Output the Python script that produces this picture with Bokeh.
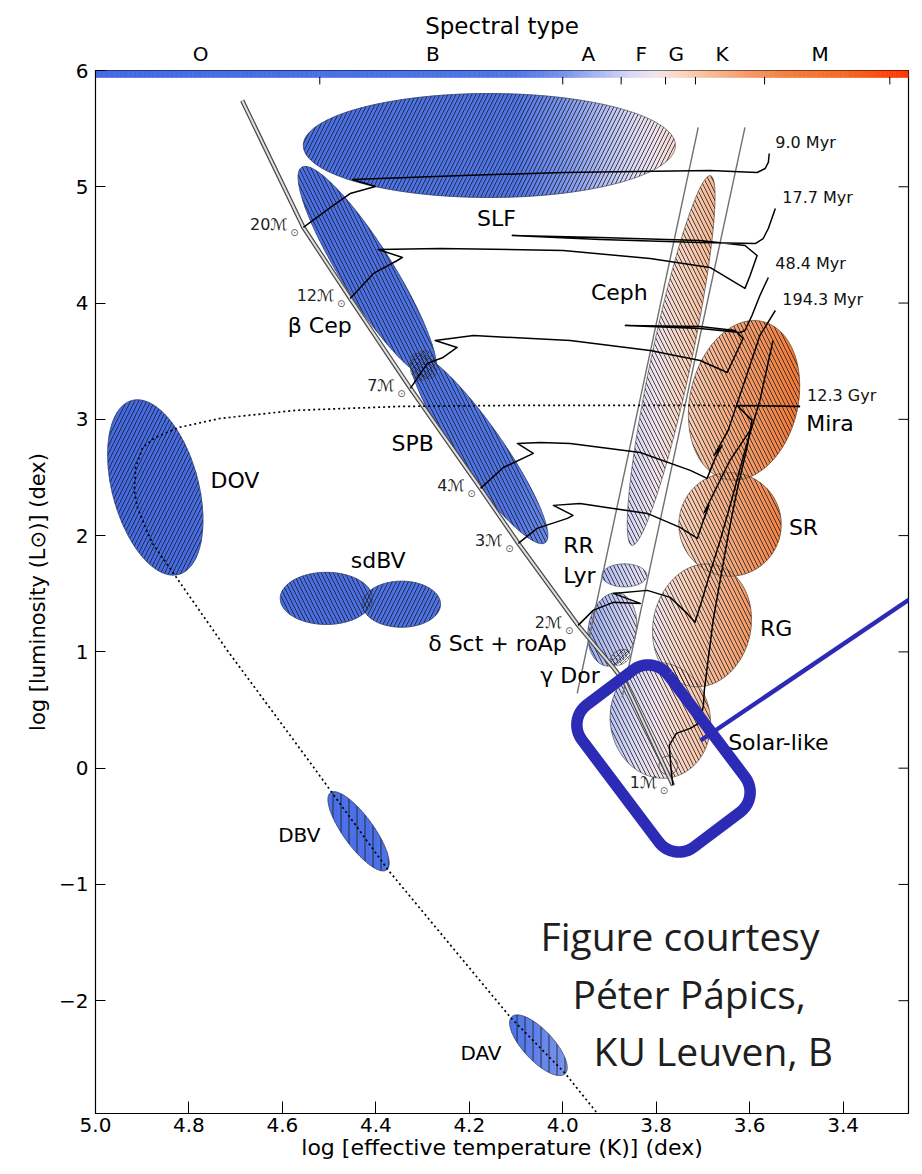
import numpy as np
from bokeh.plotting import figure
from bokeh.models import Range1d, LinearAxis, FixedTicker
from bokeh.embed import file_html
from bokeh.resources import INLINE
from bokeh.core.properties import value

# ---------------- data ----------------
x_ticks = [5.0, 4.8, 4.6, 4.4, 4.2, 4.0, 3.8, 3.6, 3.4]
y_ticks = [-2, -1, 0, 1, 2, 3, 4, 5, 6]

spec_bounds = [4.52, 4.0, 3.875, 3.78, 3.716, 3.568, 3.30]
spec_names = ["O", "B", "A", "F", "G", "K", "M"]
spec_name_teff = [4.775, 4.278, 3.945, 3.832, 3.757, 3.659, 3.449]

# pulsator regions (centre logT, centre logL, semi-axes in dex of L, tilt in degrees)
ell_name = ["SLF", "beta Cep", "SPB", "DOV", "sdBV a", "sdBV b", "DBV", "DAV",
            "Ceph", "RR Lyr", "delta Sct", "Solar-like", "RG", "SR", "Mira"]
ell_teff = [4.157, 4.418, 4.179, 4.872, 4.506, 4.345, 4.437, 4.052,
            3.768, 3.868, 3.894, 3.791, 3.702, 3.642, 3.612]
ell_lum = [5.355, 4.263, 2.750, 2.414, 1.460, 1.410, -0.543, -2.383,
           3.506, 1.658, 1.193, 0.411, 1.228, 2.096, 3.163]
ell_major = [1.60, 1.066, 0.99, 0.774, 0.396, 0.335, 0.41, 0.335,
             1.625, 0.193, 0.318, 0.50, 0.533, 0.445, 0.696]
ell_minor = [0.447, 0.224, 0.20, 0.37, 0.224, 0.198, 0.13, 0.13,
             0.172, 0.099, 0.206, 0.43, 0.42, 0.44, 0.464]
ell_angle = [0, -58, -55, 105, 0, 0, -54, -47, 78, 0, 80, 100, 78, 90, 77]
ell_hatch = ["/", "\\", "\\", "/", "\\", "/", "|", "|",
             "\\", "\\", "\\", "\\", "\\", "\\", "\\"]

# hybrid pulsator overlaps
hyb_teff = [4.300, 3.877]
hyb_lum = [3.463, 0.953]
hyb_major = [0.13, 0.09]
hyb_minor = [0.10, 0.06]
hyb_angle = [70, 30]

sun_teff, sun_lum, sun_r = 3.774, 0.024, 0.08

# zero-age main sequence
zams_teff = [4.686, 4.555, 4.455, 4.326, 4.176, 4.095, 3.967, 3.892, 3.866, 3.764]
zams_lum = [5.742, 4.650, 4.040, 3.266, 2.406, 1.933, 1.228, 0.867, 0.729, -0.148]

mass_vals = [20, 12, 7, 4, 3, 2, 1]
mass_teff = [4.555, 4.455, 4.326, 4.176, 4.095, 3.967, 3.764]
mass_lum = [4.650, 4.040, 3.266, 2.406, 1.933, 1.228, -0.148]

# evolutionary tracks
trk20_teff = [4.555, 4.497, 4.455, 4.401, 4.450, 4.213, 3.999, 3.685, 3.584, 3.567, 3.560, 3.558]
trk20_lum = [4.650, 4.822, 4.942, 5.003, 5.063, 5.097, 5.123, 5.140, 5.123, 5.157, 5.209, 5.286]

trk12_teff = [4.455, 4.405, 4.354, 4.343, 4.395, 4.262, 3.999, 3.813, 3.685, 3.610, 3.599, 3.584,
              3.610, 3.706, 3.920, 4.108, 3.920, 3.706, 3.588, 3.571, 3.560, 3.545]
trk12_lum = [4.040, 4.255, 4.366, 4.392, 4.461, 4.470, 4.452, 4.383, 4.306, 4.126, 4.237, 4.409,
             4.495, 4.538, 4.564, 4.581, 4.547, 4.521, 4.512, 4.555, 4.641, 4.813]

trk7_teff = [4.326, 4.290, 4.256, 4.226, 4.273, 4.191, 3.984, 3.813, 3.706, 3.648, 3.631, 3.614,
             3.631, 3.706, 3.866, 3.706, 3.620, 3.610, 3.595, 3.578, 3.560]
trk7_lum = [3.266, 3.481, 3.532, 3.618, 3.678, 3.721, 3.678, 3.592, 3.506, 3.403, 3.549, 3.696,
            3.764, 3.799, 3.807, 3.782, 3.747, 3.764, 3.893, 4.065, 4.220]

trk4_teff = [4.176, 4.127, 4.063, 4.097, 4.048, 3.984, 3.834, 3.727, 3.691, 3.674, 3.659, 3.676,
             3.646, 3.610, 3.578, 3.545]
trk4_lum = [2.406, 2.586, 2.707, 2.793, 2.801, 2.793, 2.715, 2.561, 2.492, 2.664, 2.776, 2.690,
            2.905, 3.335, 3.721, 3.936]

trk3_teff = [4.095, 4.055, 3.990, 3.978, 4.020, 3.963, 3.892, 3.819, 3.749, 3.712, 3.699, 3.687,
             3.697, 3.674, 3.642, 3.599]
trk3_lum = [1.933, 2.062, 2.148, 2.174, 2.260, 2.277, 2.234, 2.191, 2.071, 1.976, 2.131, 2.260,
            2.200, 2.389, 2.647, 2.905]

trk2_teff = [3.967, 3.935, 3.892, 3.834, 3.892, 3.819, 3.770, 3.734, 3.717, 3.702, 3.685, 3.663,
             3.637, 3.610, 3.578, 3.550]
trk2_lum = [1.228, 1.357, 1.426, 1.417, 1.503, 1.529, 1.469, 1.331, 1.254, 1.443, 1.675, 1.959,
            2.328, 2.733, 3.163, 3.678]

trk1_teff = [3.764, 3.768, 3.772, 3.757, 3.727, 3.706, 3.699, 3.697, 3.689, 3.678, 3.663, 3.646,
             3.627, 3.607, 3.595, 3.627, 3.492]
trk1_lum = [-0.148, -0.019, 0.196, 0.299, 0.342, 0.394, 0.540, 0.669, 0.927, 1.271, 1.615, 2.002,
            2.389, 2.733, 2.991, 3.120, 3.111]

# post-AGB / white-dwarf cooling track (dotted)
wd_teff = [3.492, 3.706, 4.102, 4.348, 4.572, 4.733, 4.822, 4.872, 4.899, 4.914, 4.917, 4.910,
           4.893, 4.878, 4.833, 4.718, 4.544, 4.373, 4.112, 3.995, 3.909]
wd_lum = [3.111, 3.120, 3.120, 3.111, 3.077, 3.008, 2.930, 2.844, 2.758, 2.586, 2.389, 2.242,
          2.070, 1.933, 1.675, 1.013, 0.067, -0.879, -2.143, -2.624, -3.054]

age_text = ["9.0 Myr", "17.7 Myr", "48.4 Myr", "194.3 Myr", "12.3 Gyr"]
age_teff = [3.545, 3.530, 3.545, 3.530, 3.477]
age_lum = [5.385, 4.908, 4.340, 4.031, 3.205]

# instability strip edges
strip_blue_teff = [3.710, 3.969]
strip_blue_lum = [5.510, 0.643]
strip_red_teff = [3.610, 3.873]
strip_red_lum = [5.510, 0.609]

lab_c_text = ["SLF", "Ceph", "β Cep", "SPB", "sdBV"]
lab_c_teff = [4.142, 3.879, 4.520, 4.321, 4.395]
lab_c_lum = [4.727, 4.091, 3.807, 2.793, 1.787]
lab_l_text = ["DOV", "RR", "Lyr", "δ Sct + roAp", "γ Dor", "Mira", "SR", "RG", "Solar-like"]
lab_l_teff = [4.754, 3.999, 3.999, 4.288, 4.048, 3.479, 3.516, 3.578, 3.646]
lab_l_lum = [2.475, 1.916, 1.658, 1.073, 0.798, 2.965, 2.070, 1.200, 0.222]
lab_s_text = ["DBV", "DAV"]
lab_s_teff = [4.609, 4.219]
lab_s_lum = [-0.578, -2.452]

# ---------------- geometry helpers ----------------
X0, X1 = 5.0, 3.26
Y0, Y1 = -2.97, 6.0
FW, FH = 813, 1043
KX = FW / (X0 - X1)   # px per dex of T
KY = FH / (Y1 - Y0)   # px per dex of L

stop_t = [3.26, 3.30, 3.40, 3.52, 3.62, 3.70, 3.75, 3.80, 3.85, 3.92, 4.00, 4.10, 5.0]
stop_c = [(255, 52, 0), (255, 66, 10), (246, 104, 36), (243, 126, 62), (245, 160, 112),
          (248, 194, 162), (250, 214, 196), (242, 228, 238), (218, 218, 247), (172, 185, 243),
          (118, 146, 236), (78, 116, 231), (66, 104, 228)]


def cmap(t):
    rgb = [int(round(np.interp(t, stop_t, [c[k] for c in stop_c]))) for k in range(3)]
    return "#%02x%02x%02x" % tuple(rgb)


def ellipse_xy(cx, cy, a, b, ang, n=180):
    t = np.linspace(0, 2 * np.pi, n, endpoint=False)
    th = np.radians(ang)
    u, v = a * np.cos(t), b * np.sin(t)
    du = u * np.cos(th) - v * np.sin(th)
    dv = u * np.sin(th) + v * np.cos(th)
    return list(cx - du * KY / KX), list(cy + dv)


def clip_poly(xs, ys, lo, hi):
    pts = list(zip(xs, ys))

    def clip(pts, inside, xc):
        out = []
        for i in range(len(pts)):
            cur, prev = pts[i], pts[i - 1]
            ci, pi_ = inside(cur), inside(prev)
            if ci:
                if not pi_:
                    tt = (xc - prev[0]) / (cur[0] - prev[0])
                    out.append((xc, prev[1] + tt * (cur[1] - prev[1])))
                out.append(cur)
            elif pi_:
                tt = (xc - prev[0]) / (cur[0] - prev[0])
                out.append((xc, prev[1] + tt * (cur[1] - prev[1])))
        return out

    pts = clip(pts, lambda p: p[0] >= lo, lo)
    if len(pts) < 3:
        return None
    pts = clip(pts, lambda p: p[0] <= hi, hi)
    if len(pts) < 3:
        return None
    return [p[0] for p in pts], [p[1] for p in pts]


# ---------------- figure ----------------
p = figure(width=918, height=1170, x_range=Range1d(X0, X1), y_range=Range1d(Y0, Y1),
           output_backend="svg", toolbar_location=None,
           min_border_left=95, min_border_right=10, min_border_top=70, min_border_bottom=57)
p.grid.visible = False
p.outline_line_color = "black"
p.outline_line_width = 1.2
p.background_fill_color = "white"
p.border_fill_color = "white"

FONT = "DejaVu Sans"

xa = p.xaxis[0]
xa.ticker = FixedTicker(ticks=x_ticks)
xa.major_label_overrides = {t: f"{t:.1f}" for t in x_ticks}
xa.major_tick_in = 12
xa.major_tick_out = 0
xa.minor_tick_line_color = None
xa.axis_line_color = "black"
xa.major_tick_line_color = "black"
xa.major_label_text_font = FONT
xa.major_label_text_font_size = "20px"
xa.major_label_text_color = "black"
xa.major_label_standoff = 4
xa.axis_label = "log [effective temperature (K)] (dex)"
xa.axis_label_text_font = FONT
xa.axis_label_text_font_style = "normal"
xa.axis_label_text_font_size = "22px"
xa.axis_label_text_color = "black"
xa.axis_label_standoff = 0

ya = p.yaxis[0]
ya.ticker = FixedTicker(ticks=y_ticks)
ya.major_label_overrides = {t: (f"\u2212{abs(t)}" if t < 0 else str(t)) for t in y_ticks}
ya.major_tick_in = 10
ya.major_tick_out = 0
ya.minor_tick_line_color = None
ya.axis_line_color = "black"
ya.major_tick_line_color = "black"
ya.major_label_text_font = FONT
ya.major_label_text_font_size = "20px"
ya.major_label_text_color = "black"
ya.major_label_standoff = 7
ya.axis_label = "log [luminosity (L\u2299)] (dex)"
ya.axis_label_text_font = FONT
ya.axis_label_text_font_style = "normal"
ya.axis_label_text_font_size = "21px"
ya.axis_label_text_color = "black"
ya.axis_label_standoff = 6

ta = LinearAxis(ticker=FixedTicker(ticks=spec_name_teff),
                major_label_overrides=dict(zip(spec_name_teff, spec_names)),
                major_tick_in=0, major_tick_out=0, minor_tick_line_color=None,
                axis_line_color=None, major_label_text_font=FONT,
                major_label_text_font_size="20px", major_label_text_color="black",
                major_label_standoff=5, axis_label="Spectral type",
                axis_label_text_font=FONT, axis_label_text_font_style="normal",
                axis_label_text_font_size="23px", axis_label_text_color="black",
                axis_label_standoff=0)
p.add_layout(ta, "above")

# right-hand tick marks (pointing inward)
p.segment(x0=[X1] * len(y_ticks), x1=[X1 + 10 / KX] * len(y_ticks), y0=y_ticks, y1=y_ticks,
          line_color="black", line_width=1)

# ---- spectral colour bar ----
edges = np.linspace(X0, X1, 320)
p.quad(left=edges[:-1], right=edges[1:], bottom=5.94, top=Y1,
       fill_color=[cmap(0.5 * (a + b)) for a, b in zip(edges[:-1], edges[1:])],
       line_color=[cmap(0.5 * (a + b)) for a, b in zip(edges[:-1], edges[1:])], line_width=0.6)
p.segment(x0=spec_bounds, x1=spec_bounds, y0=[5.945] * len(spec_bounds),
          y1=[5.88] * len(spec_bounds), line_color="black", line_width=1)

# ---- pulsator regions: gradient fill ----
outlines = []
for i in range(len(ell_name)):
    ex, ey = ellipse_xy(ell_teff[i], ell_lum[i], ell_major[i], ell_minor[i], ell_angle[i])
    outlines.append((ex, ey))
    lo, hi = min(ex), max(ex)
    nstr = max(4, int((hi - lo) / 0.005))
    cuts = np.linspace(lo, hi, nstr + 1)
    sx, sy, sc = [], [], []
    for a, b in zip(cuts[:-1], cuts[1:]):
        r = clip_poly(ex, ey, a, b)
        if r is None:
            continue
        sx.append(r[0]); sy.append(r[1]); sc.append(cmap(0.5 * (a + b)))
    p.patches(xs=sx, ys=sy, fill_color=sc, line_color=sc, line_width=0.7)

for i, (ex, ey) in enumerate(outlines):
    p.patch(ex, ey, fill_color=None, hatch_pattern=ell_hatch[i], hatch_color="#1a1a1a",
            hatch_alpha=0.8, hatch_scale=8, hatch_weight=1.0,
            line_color="#3a3a3a", line_alpha=0.55, line_width=1)

for i in range(len(hyb_teff)):
    ex, ey = ellipse_xy(hyb_teff[i], hyb_lum[i], hyb_major[i], hyb_minor[i], hyb_angle[i], n=60)
    p.patch(ex, ey, fill_color=None, hatch_pattern="x", hatch_color="#1c1c1c",
            hatch_alpha=0.8, hatch_scale=6, hatch_weight=0.8,
            line_color="#3a3a3a", line_alpha=0.6, line_width=1)
ex, ey = ellipse_xy(sun_teff, sun_lum, sun_r, sun_r, 0, n=60)
p.patch(ex, ey, fill_color=None, line_color="#555555", line_width=1)

# ---- instability strip ----
p.line(strip_blue_teff, strip_blue_lum, line_color="#707070", line_width=1.4)
p.line(strip_red_teff, strip_red_lum, line_color="#707070", line_width=1.4)

# ---- ZAMS ----
p.line(zams_teff, zams_lum, line_color="#4a4a4a", line_width=4.5)
p.line(zams_teff, zams_lum, line_color="#e0e0e0", line_width=2)

# ---- tracks ----
for tt, ll in [(trk20_teff, trk20_lum), (trk12_teff, trk12_lum), (trk7_teff, trk7_lum),
               (trk4_teff, trk4_lum), (trk3_teff, trk3_lum), (trk2_teff, trk2_lum),
               (trk1_teff, trk1_lum)]:
    p.line(tt, ll, line_color="black", line_width=1.5, line_join="round")

p.line(wd_teff, wd_lum, line_color="black", line_width=1.7, line_dash="2 3")

# ---- labels ----
p.text(x=[t + 16 / KX for t in mass_teff], y=[l + 3 / KY for l in mass_lum],
       text=[f"{m}\u2133" for m in mass_vals], text_align="right", text_baseline="middle",
       text_font=value(FONT), text_font_size="16px", text_color="#222222")
p.text(x=[t + 9 / KX for t in mass_teff], y=[l - 5 / KY for l in mass_lum],
       text=["\u2299"] * len(mass_vals), text_align="center", text_baseline="middle",
       text_font=value(FONT), text_font_size="10px", text_color="#555555")

p.text(x=age_teff, y=age_lum, text=age_text, text_align="left", text_baseline="middle",
       text_font=value(FONT), text_font_size="16px", text_color="#111111")

p.text(x=lab_c_teff, y=lab_c_lum, text=lab_c_text, text_align="center", text_baseline="middle",
       text_font=value(FONT), text_font_size="22px", text_color="black")
p.text(x=lab_l_teff, y=lab_l_lum, text=lab_l_text, text_align="left", text_baseline="middle",
       text_font=value(FONT), text_font_size="22px", text_color="black")
p.text(x=lab_s_teff, y=lab_s_lum, text=lab_s_text, text_align="left", text_baseline="middle",
       text_font=value(FONT), text_font_size="20px", text_color="black")

# ---- slide overlay: rounded highlight box and pointer ----
box_cx, box_cy = 5.0 - 568 / KX, 6.0 - 688 / KY
hw, hh, rr, rot = 54.0, 89.0, 25.0, np.radians(37)
bx, by = [], []
for (ccx, ccy, a0) in [(hw - rr, hh - rr, 0), (-(hw - rr), hh - rr, 90),
                       (-(hw - rr), -(hh - rr), 180), (hw - rr, -(hh - rr), 270)]:
    for a in np.radians(np.linspace(a0, a0 + 90, 12)):
        bx.append(ccx + rr * np.cos(a)); by.append(ccy + rr * np.sin(a))
bx.append(bx[0]); by.append(by[0])
bx, by = np.array(bx), np.array(by)
rx = bx * np.cos(rot) - by * np.sin(rot)
ry = bx * np.sin(rot) + by * np.cos(rot)
p.line(box_cx - rx / KX, box_cy + ry / KY, line_color="#2b2bb5", line_width=11.5, line_join="round")
p.line([5.0 - 605 / KX, 5.0 - 827 / KX], [6.0 - 670 / KY, 6.0 - 520 / KY],
       line_color="#2b2bb5", line_width=4.5)

p.text(x=[5.0 - 445 / KX, 5.0 - 477 / KX, 5.0 - 498 / KX],
       y=[6.0 - 865 / KY, 6.0 - 923 / KY, 6.0 - 980 / KY],
       text=["Figure courtesy", "Péter Pápics,", "KU Leuven, B"],
       text_align="left", text_baseline="middle", text_font=value("Open Sans"),
       text_font_size="39px", text_color="#1e1e1e")

open("out.html", "w").write(file_html(p, INLINE))
